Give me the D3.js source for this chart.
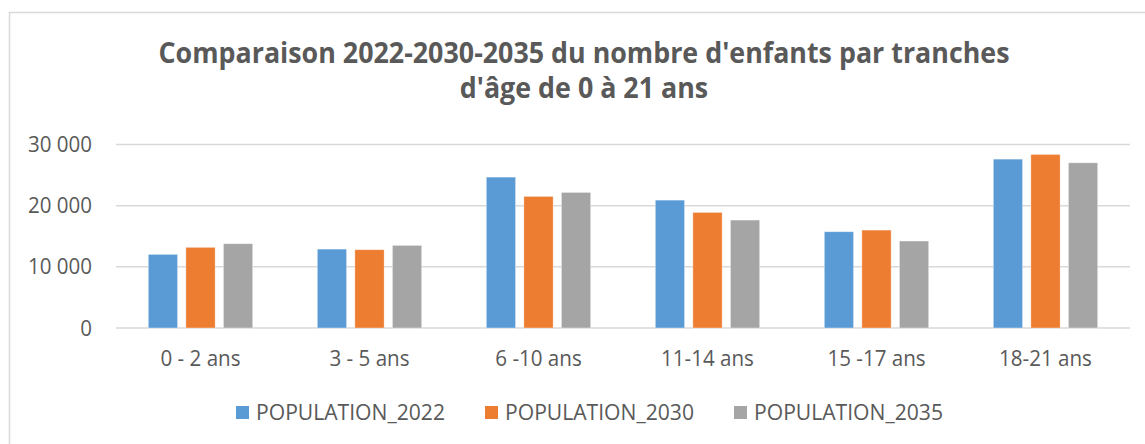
<!DOCTYPE html>
<html>
<head>
<meta charset="utf-8">
<script src="https://cdn.jsdelivr.net/npm/d3@7"></script>
<style>
  body { margin: 0; background: #fff; }
  svg { display: block; font-family: "Open Sans", "Noto Sans", sans-serif; }
</style>
</head>
<body>
<svg id="chart" width="1145" height="444"></svg>
<script>
// data
var categories = ["0 - 2 ans", "3 - 5 ans", "6 -10 ans", "11-14 ans", "15 -17 ans", "18-21 ans"];
var seriesNames = ["POPULATION_2022", "POPULATION_2030", "POPULATION_2035"];
var pop2022 = [12040, 12900, 24670, 20910, 15740, 27610];
var pop2030 = [13190, 12800, 21520, 18900, 16010, 28380];
var pop2035 = [13780, 13510, 22170, 17650, 14220, 27010];
var yTicks = [0, 10000, 20000, 30000];
var titleLines = ["Comparaison 2022-2030-2035 du nombre d'enfants par tranches", "d'âge de 0 à 21 ans"];

function drawChart() {
  var colors = ["#5B9BD5", "#ED7D31", "#A5A5A5"];
  var series = [pop2022, pop2030, pop2035];

  var svg = d3.select("#chart");

  // squeeze texts horizontally by a ratio (Calibri is narrower than what we have)
  function fitGroup(sel, ratio) {
    sel.each(function() {
      var w = this.getComputedTextLength();
      d3.select(this).attr("textLength", w * ratio).attr("lengthAdjust", "spacingAndGlyphs");
    });
  }
  function ratioFor(size, weight, text, target) {
    var t = svg.append("text").attr("font-size", size).attr("font-weight", weight).text(text);
    var w = t.node().getComputedTextLength();
    t.remove();
    return target / w;
  }

  // chart frame
  svg.append("path")
    .attr("d", "M9.5,444 V12.5 H1145")
    .attr("fill", "none")
    .attr("stroke", "#D9D9D9")
    .attr("stroke-width", 1.5);

  var plotLeft = 116, plotRight = 1130, plotTop = 144.5, plotBottom = 328;

  var x = d3.scaleBand().domain(categories).range([plotLeft, plotRight]);
  var inner = d3.scaleBand().domain(d3.range(3)).range([32.3, 136.7]).paddingInner(0.22);
  var y = d3.scaleLinear().domain([0, 30000]).range([plotBottom, plotTop]);

  // gridlines
  svg.append("g").selectAll("line")
    .data(yTicks)
    .enter().append("line")
      .attr("x1", plotLeft).attr("x2", plotRight)
      .attr("y1", function(d) { return y(d); })
      .attr("y2", function(d) { return y(d); })
      .attr("stroke", "#D9D9D9")
      .attr("stroke-width", 1.5);

  // y axis labels
  var fmt = function(d) { return d3.format(",")(d).replace(/,/g, " "); };
  var yl = svg.append("g").selectAll("text")
    .data(yTicks)
    .enter().append("text")
      .attr("x", 92)
      .attr("y", function(d) { return y(d) + 7.5; })
      .attr("text-anchor", "end")
      .attr("font-size", 21)
      .attr("fill", "#595959")
      .text(fmt);
  fitGroup(yl, ratioFor(21, "normal", "30 000", 64));

  // bars
  var groups = svg.append("g").selectAll("g")
    .data(series)
    .enter().append("g")
      .attr("fill", function(d, i) { return colors[i]; });

  groups.each(function(vals, si) {
    d3.select(this).selectAll("rect")
      .data(vals)
      .enter().append("rect")
        .attr("x", function(d, ci) { return x(categories[ci]) + inner(si); })
        .attr("width", inner.bandwidth())
        .attr("y", function(d) { return y(d); })
        .attr("height", function(d) { return plotBottom - y(d); })
        .attr("stroke", "#fff")
        .attr("stroke-opacity", 0.5)
        .attr("stroke-width", 0.75);
  });

  // x labels
  var xl = svg.append("g").selectAll("text")
    .data(categories)
    .enter().append("text")
      .attr("x", function(d) { return x(d) + x.bandwidth() / 2; })
      .attr("y", 366)
      .attr("text-anchor", "middle")
      .attr("font-size", 21)
      .attr("fill", "#595959")
      .text(function(d) { return d; });
  fitGroup(xl, ratioFor(21, "normal", "0 - 2 ans", 80));

  // title
  var tl = svg.append("g").selectAll("text")
    .data(titleLines)
    .enter().append("text")
      .attr("x", 584)
      .attr("y", function(d, i) { return 63 + i * 35; })
      .attr("text-anchor", "middle")
      .attr("font-size", 29)
      .attr("font-weight", "bold")
      .attr("fill", "#595959")
      .text(function(d) { return d; });
  fitGroup(tl, ratioFor(29, "bold", titleLines[0], 851));

  // legend
  var legX = [236, 485, 734];
  var leg = svg.append("g").selectAll("g")
    .data(seriesNames)
    .enter().append("g")
      .attr("transform", function(d, i) { return "translate(" + legX[i] + ",406)"; });
  leg.append("rect")
    .attr("width", 13).attr("height", 13)
    .attr("fill", function(d, i) { return colors[i]; });
  var lt = leg.append("text")
    .attr("x", 20)
    .attr("y", 14)
    .attr("font-size", 21)
    .attr("fill", "#595959")
    .text(function(d) { return d; });
  fitGroup(lt, ratioFor(21, "normal", "POPULATION_2022", 189));
}

drawChart();
</script>
</body>
</html>
